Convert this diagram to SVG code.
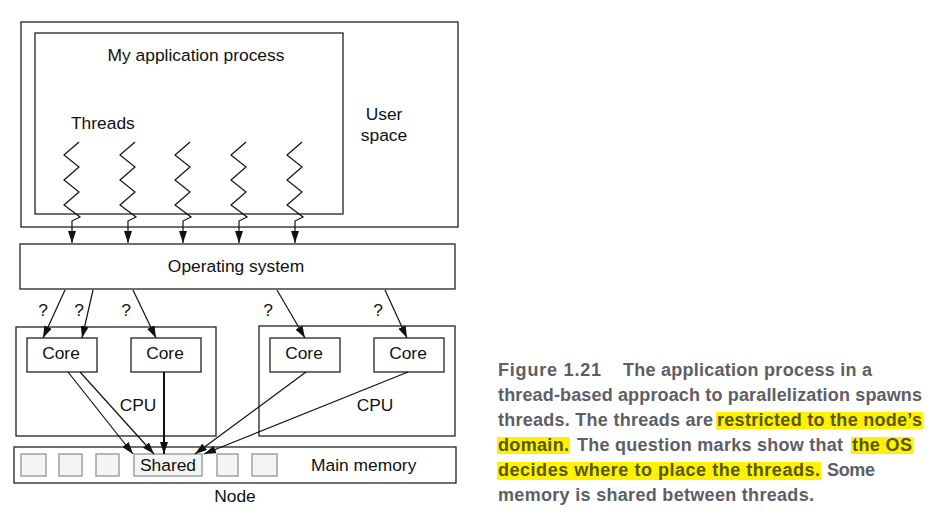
<svg xmlns="http://www.w3.org/2000/svg" width="952" height="523" viewBox="0 0 952 523">
<style>
.box{fill:#fff;stroke:#222;stroke-width:1.3}
.mem{fill:#f3f4f4;stroke:#a0a0a0;stroke-width:1.5}
.t{font-family:"Liberation Sans",Arial,sans-serif;font-size:17.4px;fill:#111}
.c{text-anchor:middle}
.ln{fill:none;stroke:#111;stroke-width:1.2}
.cap{font-family:"Liberation Sans",Arial,sans-serif;font-size:18px;font-weight:bold;fill:#5d5e66}
.hl{fill:#575700}
.hy{fill:#fff200}
</style>
<defs>
<marker id="ah" markerUnits="userSpaceOnUse" markerWidth="12" markerHeight="8" refX="12" refY="4" orient="auto">
<path d="M0,0 L12,4 L0,8 z" fill="#111"/>
</marker>
</defs>
<rect width="952" height="523" fill="#fff"/>

<g id="user-space">
<rect class="box" x="21" y="22" width="437" height="205"/>
<text class="t c" x="384" y="120">User</text>
<text class="t c" x="384" y="141">space</text>
</g>
<g id="app-process">
<rect class="box" x="35" y="33" width="308" height="181"/>
<text class="t c" x="196" y="61">My application process</text>
<text class="t" x="71" y="129">Threads</text>
</g>
<g id="os">
<rect class="box" x="20" y="244" width="435" height="45"/>
<text class="t c" x="236" y="272">Operating system</text>
</g>
<g id="cpu1">
<rect class="box" x="16" y="327" width="200" height="109"/>
<text class="t c" x="138" y="411">CPU</text>
</g>
<g id="cpu2">
<rect class="box" x="259" y="326" width="196" height="110"/>
<text class="t c" x="375" y="411">CPU</text>
</g>
<g id="core1"><rect class="box" x="27" y="338" width="70" height="34"/><text class="t c" x="61" y="359">Core</text></g>
<g id="core2"><rect class="box" x="131" y="338" width="70" height="34"/><text class="t c" x="165" y="359">Core</text></g>
<g id="core3"><rect class="box" x="270" y="338" width="70" height="34"/><text class="t c" x="304" y="359">Core</text></g>
<g id="core4"><rect class="box" x="374" y="338" width="70" height="34"/><text class="t c" x="408" y="359">Core</text></g>
<g id="main-memory">
<rect class="box" x="14" y="447" width="442" height="36"/>
<rect class="mem" x="21" y="454" width="25" height="22"/>
<rect class="mem" x="59" y="454" width="23" height="22"/>
<rect class="mem" x="96" y="454" width="23" height="22"/>
<rect class="mem" x="217" y="454" width="21" height="22"/>
<rect class="mem" x="252" y="454" width="25" height="22"/>
<text class="t" x="311" y="471">Main memory</text>
</g>
<g id="shared">
<rect class="mem" x="134" y="454" width="68" height="22"/>
<text class="t c" x="168" y="471">Shared</text>
</g>
<g id="node-label"><text class="t c" x="235" y="502">Node</text></g>

<g id="connectors">
<path class="ln" marker-end="url(#ah)" d="M79,142 L64,155 L79,167 L64,180 L79,192 L64,205 L80,217 L72,221 L72,243"/>
<path class="ln" marker-end="url(#ah)" d="M135,142 L120,155 L135,167 L120,180 L135,192 L120,205 L136,217 L128,221 L128,243"/>
<path class="ln" marker-end="url(#ah)" d="M190,142 L175,155 L190,167 L175,180 L190,192 L175,205 L191,217 L183,221 L183,243"/>
<path class="ln" marker-end="url(#ah)" d="M246,142 L231,155 L246,167 L231,180 L246,192 L231,205 L247,217 L239,221 L239,243"/>
<path class="ln" marker-end="url(#ah)" d="M302,142 L287,155 L302,167 L287,180 L302,192 L287,205 L303,217 L295,221 L295,243"/>
<line class="ln" marker-end="url(#ah)" x1="65" y1="290" x2="43" y2="338"/>
<line class="ln" marker-end="url(#ah)" x1="93" y1="290" x2="82" y2="338"/>
<line class="ln" marker-end="url(#ah)" x1="133" y1="290" x2="156" y2="338"/>
<line class="ln" marker-end="url(#ah)" x1="277" y1="290" x2="305" y2="338"/>
<line class="ln" marker-end="url(#ah)" x1="385" y1="290" x2="407" y2="338"/>
<text class="t c" x="43" y="316">?</text>
<text class="t c" x="79" y="316">?</text>
<text class="t c" x="126" y="316">?</text>
<text class="t c" x="268" y="316">?</text>
<text class="t c" x="378" y="316">?</text>
<line class="ln" marker-end="url(#ah)" x1="68" y1="372" x2="133" y2="454"/>
<line class="ln" marker-end="url(#ah)" x1="80" y1="372" x2="154" y2="454"/>
<line class="ln" style="stroke-width:2" marker-end="url(#ah)" x1="164" y1="372" x2="164" y2="454"/>
<line class="ln" marker-end="url(#ah)" x1="306" y1="372" x2="195" y2="454"/>
<line class="ln" marker-end="url(#ah)" x1="408" y1="372" x2="204" y2="454"/>
</g>

<g id="caption">
<rect class="hy" x="716" y="412" width="207" height="17"/>
<rect class="hy" x="497" y="437" width="73" height="17"/>
<rect class="hy" x="851" y="437" width="62" height="17"/>
<rect class="hy" x="497" y="462" width="324" height="18"/>
<text class="cap" x="498" y="376" textLength="103" lengthAdjust="spacing">Figure 1.21</text>
<text class="cap" x="623" y="376" textLength="249" lengthAdjust="spacing">The application process in a</text>
<text class="cap" x="498" y="401" textLength="424" lengthAdjust="spacing">thread-based approach to parallelization spawns</text>
<text class="cap" x="498" y="426" textLength="215" lengthAdjust="spacing">threads. The threads are</text>
<text class="cap hl" x="717" y="426" textLength="205" lengthAdjust="spacing">restricted to the node’s</text>
<text class="cap hl" x="498" y="451" textLength="71" lengthAdjust="spacing">domain.</text>
<text class="cap" x="577" y="451" textLength="266" lengthAdjust="spacing">The question marks show that</text>
<text class="cap hl" x="852" y="451" textLength="60" lengthAdjust="spacing">the OS</text>
<text class="cap hl" x="498" y="476" textLength="322" lengthAdjust="spacing">decides where to place the threads.</text>
<text class="cap" x="827" y="476" textLength="48" lengthAdjust="spacing">Some</text>
<text class="cap" x="498" y="501" textLength="316" lengthAdjust="spacing">memory is shared between threads.</text>
</g>
</svg>
